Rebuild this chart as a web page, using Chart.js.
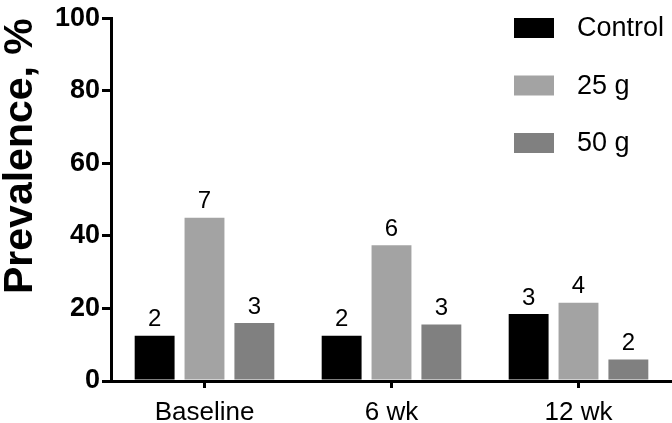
<!DOCTYPE html>
<html>
<head>
<meta charset="utf-8">
<script src="https://cdn.jsdelivr.net/npm/chart.js@4/dist/chart.umd.min.js"></script>
<style>
  html, body { margin: 0; padding: 0; background: #fff; }
  #wrap { width: 672px; height: 423px; }
</style>
</head>
<body>
<div id="wrap"><canvas id="barChartPrev"></canvas></div>
<script>
// datos
var categorias = ["Baseline", "6 wk", "12 wk"];
var control = [12.5, 12.5, 18.5];
var g25 = [45, 37.4, 21.6];
var g50 = [16, 15.6, 5.9];
var nControl = [2, 2, 3];
var n25 = [7, 6, 4];
var n50 = [3, 3, 2];
var ticksY = [0, 20, 40, 60, 80, 100];

var fuente = '"Liberation Sans", Arial, Helvetica, sans-serif';

// numeros encima de cada barra
var etiquetas = {
    id: 'etiquetas',
    afterDatasetsDraw: function (chart) {
        var ctx = chart.ctx;
        ctx.save();
        ctx.font = '24px ' + fuente;
        ctx.fillStyle = '#000';
        ctx.textAlign = 'center';
        ctx.textBaseline = 'bottom';
        chart.data.datasets.forEach(function (ds, i) {
            chart.getDatasetMeta(i).data.forEach(function (bar, j) {
                ctx.fillText(ds.conteos[j], bar.x, bar.y - 4);
            });
        });
        ctx.restore();
    }
};

// leyenda vertical arriba a la derecha
var leyenda = {
    id: 'leyenda',
    afterDraw: function (chart) {
        var ctx = chart.ctx;
        ctx.save();
        ctx.font = '27px ' + fuente;
        ctx.textBaseline = 'middle';
        chart.data.datasets.forEach(function (ds, i) {
            var y = 28 + i * 57.5;
            ctx.fillStyle = ds.backgroundColor;
            ctx.fillRect(514, y - 10, 40, 20);
            ctx.fillStyle = '#000';
            ctx.fillText(ds.label, 577, y + 1);
        });
        ctx.restore();
    }
};

new Chart(document.getElementById('barChartPrev'), {
    type: 'bar',
    data: {
        labels: categorias,
        datasets: [
            { label: "Control", data: control, conteos: nControl, backgroundColor: '#000000' },
            { label: "25 g", data: g25, conteos: n25, backgroundColor: '#a3a3a3' },
            { label: "50 g", data: g50, conteos: n50, backgroundColor: '#808080' }
        ]
    },
    options: {
        responsive: true,
        maintainAspectRatio: false,
        animation: false,
        events: [],
        layout: { padding: { top: 13, right: 0, left: 0, bottom: 0 } },
        datasets: { bar: { categoryPercentage: 0.8, barPercentage: 0.8 } },
        plugins: { legend: { display: false }, tooltip: { enabled: false } },
        scales: {
            x: {
                afterFit: function (s) { s.height = 42; },
                border: { color: '#000', width: 3 },
                grid: { offset: false, drawOnChartArea: false, color: '#000', lineWidth: 3, tickLength: 7 },
                ticks: { color: '#000', font: { family: fuente, size: 26 }, padding: 9 }
            },
            y: {
                min: 0,
                max: 100,
                afterFit: function (s) { s.width = 111; },
                afterBuildTicks: function (s) { s.ticks = ticksY.map(function (v) { return { value: v }; }); },
                border: { color: '#000', width: 3 },
                grid: { drawOnChartArea: false, color: '#000', lineWidth: 3, tickLength: 9 },
                ticks: { color: '#000', font: { family: fuente, size: 27, weight: 'bold' }, padding: 2 },
                title: {
                    display: true,
                    text: 'Prevalence, %',
                    align: 'end',
                    color: '#000',
                    font: { family: fuente, size: 41, weight: 'bold', lineHeight: 1 },
                    padding: { top: 0, bottom: 0 }
                }
            }
        }
    },
    plugins: [etiquetas, leyenda]
});
</script>
</body>
</html>
